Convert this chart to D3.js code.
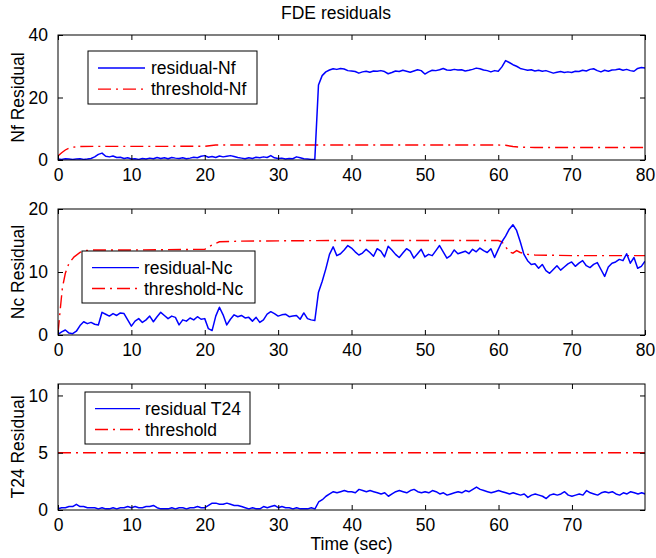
<!DOCTYPE html>
<html>
<head>
<meta charset="utf-8">
<script src="https://cdn.jsdelivr.net/npm/d3@7"></script>
<style>
  body { margin: 0; background: #fff; }
  text { font-family: "Liberation Sans", Arial, Helvetica, sans-serif; }
</style>
</head>
<body>
<div id="vis"></div>
<script>
const width = 656;
const height = 558;

// residuals are sampled every 0.5 s from t = 0 to t = 80
const sampleStep = 0.5;

const residualNf = [
  0.3,0.2,0.4,0.3,0.2,0.3,0.4,0.2,0.3,0.5,
  1.0,1.8,2.2,1.2,1.0,1.3,0.8,0.9,0.5,0.7,
  0.3,0.4,0.2,0.5,0.3,0.6,0.4,0.8,0.5,0.7,
  0.4,0.8,0.6,0.5,0.7,0.4,0.6,0.9,0.7,1.2,
  1.4,0.9,1.1,0.8,1.3,1.0,1.2,1.4,1.1,0.8,
  0.6,0.4,0.7,0.5,0.9,0.7,1.0,0.8,1.4,0.7,
  0.5,0.6,0.3,0.5,0.4,1.0,0.7,0.4,0.3,0.2,
  0.2,24.0,27.0,28.2,28.8,29.2,29.0,29.3,29.1,28.6,
  28.5,28.3,27.8,28.2,28.4,28.1,28.5,28.4,28.6,28.3,
  27.6,28.0,28.5,28.3,28.7,28.4,28.1,28.5,28.9,28.6,
  27.5,28.2,28.7,28.6,28.9,29.3,28.8,28.7,29.0,28.8,
  28.9,28.5,28.7,29.0,29.4,29.2,28.8,28.6,28.2,28.6,
  28.4,29.8,31.8,31.2,30.5,30.0,29.3,29.0,28.7,28.9,
  28.5,28.7,28.4,28.6,28.2,27.8,28.1,28.3,28.0,28.2,
  28.0,28.4,28.3,28.7,28.5,29.0,29.2,28.6,28.2,28.7,
  28.4,28.8,28.9,29.1,28.7,29.0,28.6,28.4,29.3,29.6,
  29.4
];
const thresholdNfTime  = [0, 0.5, 1, 1.5, 2, 3, 5, 10, 20, 21.5, 25, 40, 60, 61, 62, 63, 65, 80];
const thresholdNfValue = [1.3, 2.3, 3.2, 3.8, 4.1, 4.3, 4.35, 4.35, 4.4, 4.8, 4.8, 4.8, 4.8, 4.7, 4.3, 4.1, 4.0, 4.0];

const residualNc = [
  0.1,0.5,0.8,0.3,0.2,0.6,1.5,2.1,1.8,2.0,
  1.7,1.6,3.6,3.3,3.0,3.4,3.1,3.5,3.4,2.4,
  1.4,2.2,2.6,2.0,2.4,3.0,2.1,2.9,3.6,3.1,
  2.6,3.0,2.8,1.6,2.4,2.2,2.7,2.4,2.9,2.5,
  2.6,1.0,0.7,3.0,4.4,3.2,1.6,2.5,3.2,2.9,
  3.1,2.7,2.8,2.2,2.8,2.0,2.4,3.3,3.7,3.4,
  3.0,3.2,3.3,2.9,3.0,3.1,2.5,3.5,2.6,2.4,
  2.3,6.8,8.5,10.5,12.8,14.0,12.6,12.9,13.5,14.2,
  13.8,13.2,12.7,13.0,13.6,13.1,12.5,13.7,13.3,12.4,
  14.1,13.5,12.8,12.3,13.0,13.7,13.3,12.2,12.9,13.6,
  12.4,12.8,12.6,13.4,14.2,13.2,12.2,12.6,13.5,12.9,
  13.1,13.3,12.9,13.6,13.2,13.8,13.4,13.1,13.7,12.3,
  13.6,14.8,15.7,16.8,17.5,16.6,14.8,12.8,11.8,11.2,
  11.3,10.6,11.2,10.2,9.8,10.4,11.0,10.3,10.8,11.3,
  11.6,10.9,11.4,11.8,11.0,10.7,11.2,11.5,10.4,9.3,
  10.8,11.4,11.6,12.0,11.8,12.9,11.4,12.3,10.6,10.9,
  11.7
];
const thresholdNcTime  = [0, 0.3, 0.6, 1, 1.5, 2.2, 3, 3.5, 5, 10, 20, 21, 22, 25, 37, 50, 60, 60.5, 61, 61.5, 62, 62.5, 63, 64, 65, 70, 80];
const thresholdNcValue = [0.3, 4, 7.5, 9.8, 11.4, 12.4, 13.1, 13.4, 13.5, 13.5, 13.6, 14.3, 14.8, 14.9, 15.0, 15.0, 15.0, 14.8, 14.0, 13.2, 13.0, 13.4, 13.1, 12.8, 12.7, 12.6, 12.6];

const residualT24 = [
  0.1,0.2,0.2,0.3,0.3,0.5,0.3,0.3,0.2,0.2,
  0.2,0.1,0.2,0.1,0.1,0.2,0.1,0.2,0.2,0.3,
  0.2,0.3,0.2,0.2,0.3,0.3,0.4,0.2,0.1,0.1,
  0.1,0.2,0.1,0.2,0.2,0.1,0.2,0.2,0.3,0.2,
  0.2,0.4,0.6,0.6,0.5,0.5,0.6,0.5,0.4,0.4,
  0.3,0.2,0.1,0.2,0.1,0.1,0.3,0.2,0.3,0.4,
  0.2,0.3,0.2,0.2,0.1,0.2,0.1,0.1,0.1,0.2,
  0.1,0.7,0.9,1.2,1.4,1.6,1.5,1.6,1.7,1.6,
  1.6,1.5,1.8,1.7,1.6,1.7,1.6,1.5,1.4,1.5,
  1.2,1.4,1.6,1.7,1.6,1.5,1.7,1.8,1.6,1.5,
  1.6,1.5,1.7,1.6,1.4,1.5,1.3,1.4,1.5,1.6,
  1.5,1.7,1.6,1.8,2.0,1.8,1.7,1.6,1.5,1.6,
  1.7,1.6,1.5,1.4,1.5,1.4,1.3,1.4,1.1,1.3,
  1.4,1.3,1.2,1.0,1.3,1.4,1.3,1.4,1.6,1.3,
  1.2,1.3,1.4,1.3,1.7,1.5,1.4,1.3,1.5,1.6,
  1.5,1.6,1.4,1.3,1.5,1.4,1.6,1.5,1.4,1.5,
  1.4
];
const thresholdT24Time  = [0, 80];
const thresholdT24Value = [5, 5];

const xTicksFull = [0, 10, 20, 30, 40, 50, 60, 70, 80];
const xTicksLast = [0, 10, 20, 30, 40, 50, 60, 70];

// layout of the three stacked axes (MATLAB subplot style)
const plotLeft = 58, plotRight = 645;
const panels = [
  { top: 35, bottom: 160, xMax: 80, yMax: 40, xTicks: xTicksFull, yTicks: [0, 20, 40],
    ylabel: "Nf Residual", residual: residualNf, thrT: thresholdNfTime, thrV: thresholdNfValue,
    names: ["residual-Nf", "threshold-Nf"], box: [88, 51, 169, 53], lineX: [98, 145], textX: 151 },
  { top: 209, bottom: 335, xMax: 80, yMax: 20, xTicks: xTicksFull, yTicks: [0, 10, 20],
    ylabel: "Nc Residual", residual: residualNc, thrT: thresholdNcTime, thrV: thresholdNcValue,
    names: ["residual-Nc", "threshold-Nc"], box: [82, 251, 173, 52], lineX: [92, 139], textX: 144 },
  { top: 384, bottom: 510, xMax: 79.95, yMax: 11, xTicks: xTicksLast, yTicks: [0, 5, 10],
    ylabel: "T24 Residual", residual: residualT24, thrT: thresholdT24Time, thrV: thresholdT24Value,
    names: ["residual T24", "threshold"], box: [85, 392, 165, 52], lineX: [95, 140], textX: 145 }
];

const fontSize = 17.5;
const blue = "#0000ff", red = "#ff0000";
const dashDot = "13,5,2,5";

const svg = d3.select("#vis")
  .append("svg")
  .attr("width", width)
  .attr("height", height);

svg.append("rect").attr("width", width).attr("height", height).attr("fill", "#fff");

// title and shared x label
svg.append("text")
  .attr("x", 336).attr("y", 19)
  .attr("text-anchor", "middle")
  .style("font-size", "17.5px")
  .text("FDE residuals");

svg.append("text")
  .attr("x", (plotLeft + plotRight) / 2).attr("y", 550)
  .attr("text-anchor", "middle")
  .style("font-size", fontSize + "px")
  .text("Time (sec)");

panels.forEach((p, i) => {
  const x = d3.scaleLinear().domain([0, p.xMax]).range([plotLeft, plotRight]);
  const y = d3.scaleLinear().domain([0, p.yMax]).range([p.bottom, p.top]);

  const clipId = "clip" + i;
  svg.append("clipPath").attr("id", clipId)
    .append("rect")
    .attr("x", plotLeft).attr("y", p.top)
    .attr("width", plotRight - plotLeft).attr("height", p.bottom - p.top);

  const g = svg.append("g");

  // lines
  const line = d3.line().x(d => x(d[0])).y(d => y(d[1]));
  const resData = p.residual.map((v, k) => [k * sampleStep, v]);
  const thrData = p.thrT.map((t, k) => [t, p.thrV[k]]);

  const plot = g.append("g").attr("clip-path", `url(#${clipId})`);
  plot.append("path")
    .datum(thrData)
    .attr("d", line)
    .attr("fill", "none")
    .attr("stroke", red)
    .attr("stroke-width", 1.4)
    .attr("stroke-dasharray", dashDot);
  plot.append("path")
    .datum(resData)
    .attr("d", line)
    .attr("fill", "none")
    .attr("stroke", blue)
    .attr("stroke-width", 1.5)
    .attr("stroke-linejoin", "round");

  // axes with inward ticks on all four sides
  const axB = g.append("g").attr("transform", `translate(0,${p.bottom})`)
    .call(d3.axisBottom(x).tickValues(p.xTicks).tickSize(-5).tickPadding(9).tickFormat(d3.format("d")));
  const axT = g.append("g").attr("transform", `translate(0,${p.top})`)
    .call(d3.axisTop(x).tickValues(p.xTicks).tickSize(-5).tickFormat(""));
  const axL = g.append("g").attr("transform", `translate(${plotLeft},0)`)
    .call(d3.axisLeft(y).tickValues(p.yTicks).tickSize(-5).tickPadding(10).tickFormat(d3.format("d")));
  const axR = g.append("g").attr("transform", `translate(${plotRight},0)`)
    .call(d3.axisRight(y).tickValues(p.yTicks).tickSize(-5).tickFormat(""));

  [axB, axT, axL, axR].forEach(a => {
    a.select(".domain").remove();
    a.selectAll(".tick line").attr("stroke", "#000").attr("stroke-width", 1);
    a.selectAll("text")
      .attr("fill", "#000")
      .style("font-size", fontSize + "px")
      .style("font-family", '"Liberation Sans", Arial, sans-serif');
  });

  g.append("rect")
    .attr("x", plotLeft).attr("y", p.top)
    .attr("width", plotRight - plotLeft).attr("height", p.bottom - p.top)
    .attr("fill", "none").attr("stroke", "#000").attr("stroke-width", 1);

  // y label
  svg.append("text")
    .attr("transform", `translate(24,${(p.top + p.bottom) / 2}) rotate(-90)`)
    .attr("text-anchor", "middle")
    .style("font-size", fontSize + "px")
    .text(p.ylabel);

  // legend
  const [bx, by, bw, bh] = p.box;
  const lg = svg.append("g");
  lg.append("rect")
    .attr("x", bx).attr("y", by).attr("width", bw).attr("height", bh)
    .attr("fill", "#fff").attr("stroke", "#000").attr("stroke-width", 1);
  const rows = [by + bh * 0.32, by + bh * 0.72];
  const styles = [{ c: blue, d: null }, { c: red, d: dashDot }];
  rows.forEach((ry, k) => {
    lg.append("line")
      .attr("x1", p.lineX[0]).attr("x2", p.lineX[1])
      .attr("y1", ry).attr("y2", ry)
      .attr("stroke", styles[k].c)
      .attr("stroke-width", 1.4)
      .attr("stroke-dasharray", styles[k].d);
    lg.append("text")
      .attr("x", p.textX).attr("y", ry)
      .attr("dy", "0.36em")
      .style("font-size", fontSize + "px")
      .text(p.names[k]);
  });
});
</script>
</body>
</html>
